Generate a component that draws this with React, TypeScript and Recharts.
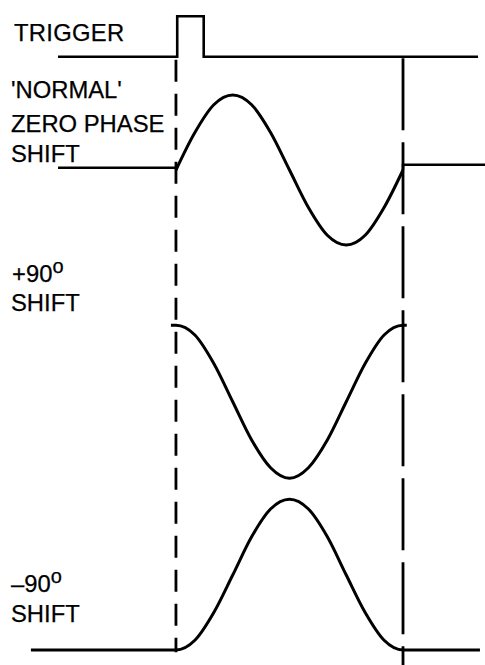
import React from "react";
import { LineChart, Line, XAxis, YAxis, ReferenceLine, Customized } from "recharts";

// Time axis in degrees of the cycle (0 = trigger, 360 = end of cycle)
const phaseDeg = [0, 30, 60, 90, 120, 150, 180, 210, 240, 270, 300, 330, 360];

// Trigger pulse
const triggerTime = [-187, 2, 2, 44, 44, 479];
const triggerLevel = [7.91, 7.91, 8.45, 8.45, 7.91, 7.91];

// 'Normal' zero phase shift
const normalLeftTime = [-187, 0];
const normalLeftLevel = [6.43, 6.43];
const normalWaveLevel = [6.4, 6.9, 7.27, 7.4, 7.27, 6.9, 6.4, 5.9, 5.53, 5.4, 5.53, 5.9, 6.4];
const normalRightTime = [360, 360, 490];
const normalRightLevel = [6.4, 6.47, 6.47];

// +90° shift
const plus90Time = [-8, ...phaseDeg, 366];
const plus90Level = [4.33, 4.33, 4.2, 3.82, 3.31, 2.8, 2.43, 2.29, 2.43, 2.8, 3.31, 3.82, 4.2, 4.33, 4.33];

// -90° shift
const minus90Time = [-230, ...phaseDeg, 482];
const minus90Level = [0, 0, 0.13, 0.5, 1.0, 1.51, 1.88, 2.01, 1.88, 1.51, 1.0, 0.5, 0.13, 0, 0];

// Labels
const triggerLabel = ["TRIGGER"];
const normalLabel = ["'NORMAL'", "ZERO PHASE", "SHIFT"];
const plus90Label = ["+90", "o", "SHIFT"];
const minus90Label = ["\u201390", "o", "SHIFT"];

const zip = (ts: number[], vs: number[]) => ts.map((t, i) => ({ t, v: vs[i] }));

const triggerData = zip(triggerTime, triggerLevel);
const normalLeftData = zip(normalLeftTime, normalLeftLevel);
const normalWaveData = zip(phaseDeg, normalWaveLevel);
const normalRightData = zip(normalRightTime, normalRightLevel);
const plus90Data = zip(plus90Time, plus90Level);
const minus90Data = zip(minus90Time, minus90Level);

const FONT = "'Liberation Sans', Arial, Helvetica, sans-serif";
const FS = 23.8;

const Labels = () => (
  <g fontFamily={FONT} fontSize={FS} fill="#000" stroke="#000" strokeWidth={0.25}>
    <text x={14} y={41} letterSpacing={0.3}>{triggerLabel[0]}</text>
    <text x={11} y={98}>{normalLabel[0]}</text>
    <text x={11} y={132}>{normalLabel[1]}</text>
    <text x={11} y={162}>{normalLabel[2]}</text>
    <text x={12} y={282}>
      {plus90Label[0]}
      <tspan dy={-9} fontSize={20}>{plus90Label[1]}</tspan>
    </text>
    <text x={11} y={311}>{plus90Label[2]}</text>
    <text x={11} y={592}>
      {minus90Label[0]}
      <tspan dy={-9} fontSize={20}>{minus90Label[1]}</tspan>
    </text>
    <text x={11} y={622}>{minus90Label[2]}</text>
  </g>
);

export default function App() {
  const lineProps = {
    dataKey: "v",
    stroke: "#000",
    dot: false,
    activeDot: false,
    isAnimationActive: false,
  } as const;
  return (
    <div style={{ position: "absolute", left: 0, top: 0, background: "#fff" }}>
      <LineChart width={485} height={665} margin={{ top: 0, right: 0, bottom: 0, left: 0 }}>
        <XAxis type="number" dataKey="t" domain={[-279, 490]} allowDataOverflow hide />
        <YAxis type="number" domain={[-0.2, 26 / 3]} allowDataOverflow hide />
        <ReferenceLine
          segment={[{ x: 0, y: 7.87 }, { x: 0, y: -0.03 }]}
          stroke="#000"
          strokeWidth={2.8}
          strokeDasharray="22 12"
        />
        <ReferenceLine
          segment={[{ x: 360, y: 7.89 }, { x: 360, y: -0.2 }]}
          stroke="#000"
          strokeWidth={2.8}
          strokeDasharray="72 12"
        />
        <Line {...lineProps} data={triggerData} type="linear" strokeWidth={2.6} />
        <Line {...lineProps} data={normalLeftData} type="linear" strokeWidth={2.6} />
        <Line {...lineProps} data={normalWaveData} type="monotone" strokeWidth={3} />
        <Line {...lineProps} data={normalRightData} type="linear" strokeWidth={2.6} />
        <Line {...lineProps} data={plus90Data} type="monotone" strokeWidth={3} />
        <Line {...lineProps} data={minus90Data} type="monotone" strokeWidth={3} />
        <Customized component={Labels} />
      </LineChart>
    </div>
  );
}
